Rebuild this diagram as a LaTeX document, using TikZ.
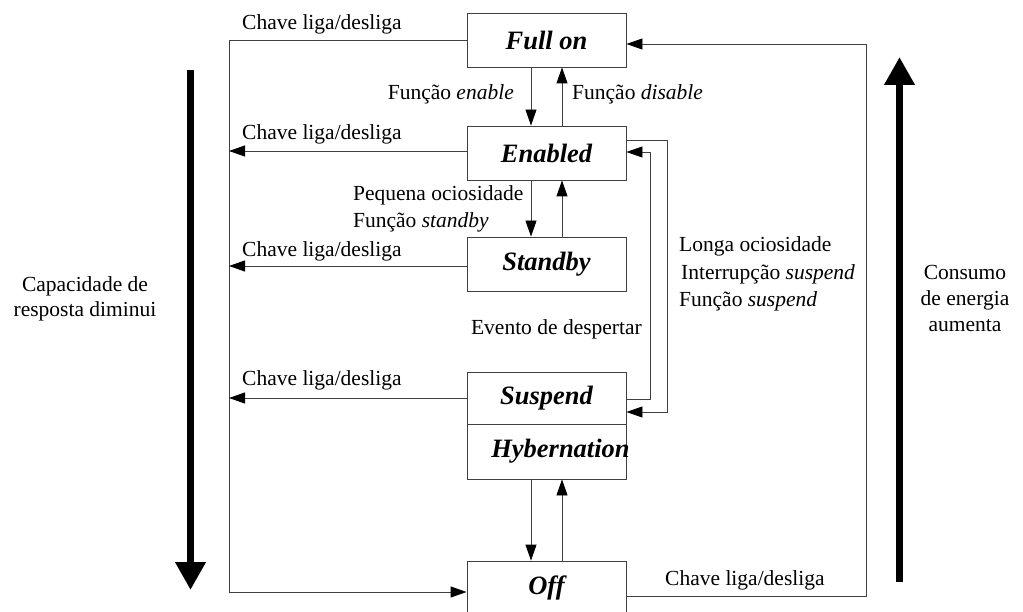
\documentclass[tikz,border=0pt]{standalone}
\usepackage{fontspec}
\setmainfont{Liberation Serif}
\usetikzlibrary{arrows.meta,calc}
\begin{document}
\begin{tikzpicture}[x=1pt,y=-1pt,
  state/.style={draw=black!75, line width=0.9pt, minimum width=159pt, minimum height=54pt,
                inner sep=0pt, font=\fontsize{26.5}{30}\selectfont\bfseries\itshape},
  bi/.style={inner sep=0pt, font=\fontsize{26.5}{30}\selectfont\bfseries\itshape},
  txt/.style={inner sep=0pt, font=\fontsize{21.5}{25}\selectfont},
  wire/.style={draw=black!75, line width=0.9pt},
  arr/.style={wire, -{Triangle[length=16pt,width=11pt,black]}},
  big/.style={line width=7pt, -{Triangle[length=28pt,width=29pt]}}
]
\useasboundingbox (0,0) rectangle (1023,612);

% power states
\node[state] (full) at (546.5,40) {Full on};
\node[state] (enab) at (546.5,153) {Enabled};
\node[state] (stby) at (546.5,264) {Standby};
\node[state, minimum height=52pt] (susp) at (546.5,398) {Suspend};
\node[state, minimum height=55pt] (hyb) at (546.5,451.5) {};
\node[bi] at ([xshift=14pt]hyb.center) {Hybernation};
\node[state] (off) at (546.5,588) {Off};

% transitions along the main column
\draw[arr] ([xshift=-15.5pt]full.south) -- ([xshift=-15.5pt]enab.north);
\draw[arr] ([xshift=15.5pt]enab.north) -- ([xshift=15.5pt]full.south);
\draw[arr] ([xshift=-15.5pt]enab.south) -- ([xshift=-15.5pt]stby.north);
\draw[arr] ([xshift=15.5pt]stby.north) -- ([xshift=15.5pt]enab.south);
\draw[arr] ([xshift=-15.5pt]hyb.south) -- ([xshift=-15.5pt]off.north);
\draw[arr] ([xshift=15.5pt]off.north) -- ([xshift=15.5pt]hyb.south);

% power switch rail on the left
\coordinate (lt) at (229,40);
\coordinate (lb) at (229,592);
\draw[arr] (full.west) -- (lt) -- (lb) -- (lb -| off.west);
\draw[arr] ([yshift=2pt]enab.west) -- ([yshift=2pt]enab.west -| lt);
\draw[arr] ([yshift=-2pt]stby.west) -- ([yshift=-2pt]stby.west -| lt);
\draw[arr] (susp.west) -- (susp.west -| lt);

% power switch rail on the right
\coordinate (rb) at (866,596);
\coordinate (rt) at (866,44);
\draw[arr] (rb -| off.east) -- (rb) -- (rt) -- (rt -| full.east);

% enabled <-> suspend loop
\coordinate (lo1) at (667,140);
\coordinate (lo2) at (667,412);
\draw[arr] (lo1 -| enab.east) -- (lo1) -- (lo2) -- (lo2 -| susp.east);
\coordinate (li1) at (650,399);
\coordinate (li2) at (650,152);
\draw[arr] (li1 -| susp.east) -- (li1) -- (li2) -- (li2 -| enab.east);

% trend arrows
\draw[big] (190.5,70) -- (190.5,590);
\draw[big] (899.5,582) -- (899.5,57);

% labels
\node[txt, anchor=base west] (c1) at (242,30) {Chave liga/desliga};
\node[txt, anchor=base west] (c2) at (242,140) {Chave liga/desliga};
\node[txt, anchor=base west] (c3) at (242,257) {Chave liga/desliga};
\node[txt, anchor=base west] (c4) at (242,385) {Chave liga/desliga};
\node[txt, anchor=base west] (c5) at (665,585) {Chave liga/desliga};

\node[txt, anchor=base east] (fe) at (514,100) {Função \textit{enable}};
\node[txt, anchor=base west] (fd) at (572,100) {Função \textit{disable}};
\node[txt, anchor=base west] (po) at (353,201) {Pequena ociosidade};
\node[txt, anchor=base west] (fs) at (353,228) {Função \textit{standby}};
\node[txt, anchor=base east] (ev) at (642,335) {Evento de despertar};
\node[txt, anchor=base west] (lo) at (679,252) {Longa ociosidade};
\node[txt, anchor=base west] (is) at (681,280) {Interrupção \textit{suspend}};
\node[txt, anchor=base west] (fsu) at (679,307) {Função \textit{suspend}};

\node[txt, align=center] (cap) at (85,299) {Capacidade de\\resposta diminui};
\node[txt, align=center, font=\fontsize{21.5}{26}\selectfont] (con) at (965,298) {Consumo\\de energia\\aumenta};
\end{tikzpicture}
\end{document}
